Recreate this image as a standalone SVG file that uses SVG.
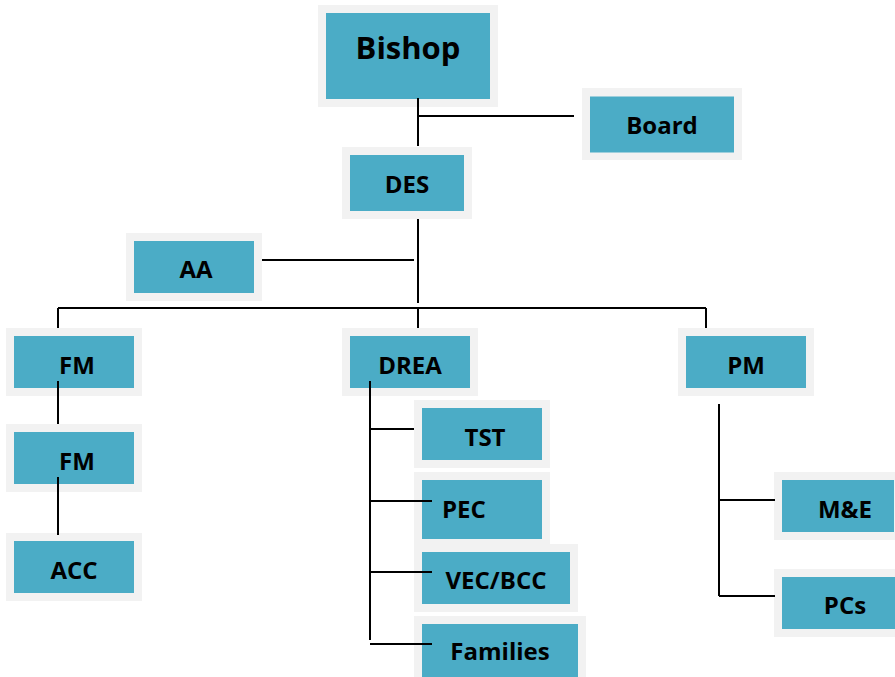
<svg xmlns="http://www.w3.org/2000/svg" width="895" height="677" viewBox="0 0 895 677">
<style>
.o{fill:#f2f2f2}
.i{fill:#4bacc6}
.t{font-family:"Open Sans","Noto Sans",sans-serif;font-weight:bold;font-size:24px;fill:#000;text-anchor:middle}
.c line{stroke:#000;stroke-width:2}
</style>
<rect width="895" height="677" fill="#fff"/>
<g id="bishop"><rect class="o" x="318" y="5" width="180" height="102"/><rect class="i" x="326" y="13" width="164" height="86"/><text class="t" x="408" y="59" style="font-size:31px">Bishop</text></g>
<g id="board"><rect class="o" x="582" y="88" width="160" height="72"/><rect class="i" x="590" y="96.5" width="144" height="56"/><text class="t" x="662" y="134">Board</text></g>
<g id="des"><rect class="o" x="342" y="147" width="130" height="72"/><rect class="i" x="350" y="155" width="114" height="56"/><text class="t" x="407" y="193">DES</text></g>
<g id="aa"><rect class="o" x="126" y="233" width="136" height="68"/><rect class="i" x="134" y="241" width="120" height="52"/><text class="t" x="196" y="278">AA</text></g>
<g id="fm1"><rect class="o" x="6" y="328" width="136" height="68"/><rect class="i" x="14" y="336" width="120" height="52"/><text class="t" x="77" y="374">FM</text></g>
<g id="drea"><rect class="o" x="342" y="328" width="136" height="68"/><rect class="i" x="350" y="336" width="120" height="52"/><text class="t" x="410" y="374">DREA</text></g>
<g id="pm"><rect class="o" x="678" y="328" width="136" height="68"/><rect class="i" x="686" y="336" width="120" height="52"/><text class="t" x="746" y="374">PM</text></g>
<g id="fm2"><rect class="o" x="6" y="424" width="136" height="68"/><rect class="i" x="14" y="432" width="120" height="52"/><text class="t" x="77" y="470">FM</text></g>
<g id="acc"><rect class="o" x="6" y="533" width="136" height="68"/><rect class="i" x="14" y="541" width="120" height="52"/><text class="t" x="74" y="579">ACC</text></g>
<g id="tst"><rect class="o" x="414" y="400" width="136" height="68"/><rect class="i" x="422" y="408" width="120" height="52"/><text class="t" x="485" y="446">TST</text></g>
<g id="pec"><rect class="o" x="414" y="472" width="136" height="72"/><rect class="i" x="422" y="480" width="120" height="59"/><text class="t" x="442" y="518" style="text-anchor:start">PEC</text></g>
<g id="vec"><rect class="o" x="414" y="544" width="164" height="68"/><rect class="i" x="422" y="552" width="148" height="52"/><text class="t" x="496" y="589">VEC/BCC</text></g>
<g id="families"><rect class="o" x="414" y="616" width="172" height="70"/><rect class="i" x="422" y="624" width="156" height="60"/><text class="t" x="500" y="660">Families</text></g>
<g id="me"><rect class="o" x="774" y="472" width="130" height="68"/><rect class="i" x="782" y="480" width="112" height="52"/><text class="t" x="845" y="518">M&amp;E</text></g>
<g id="pcs"><rect class="o" x="774" y="569" width="130" height="68"/><rect class="i" x="782" y="577" width="113" height="52"/><text class="t" x="845" y="614">PCs</text></g>
<g id="connectors" class="c">
<line x1="418" y1="98" x2="418" y2="146"/>
<line x1="418" y1="116" x2="574" y2="116"/>
<line x1="418" y1="219" x2="418" y2="303"/>
<line x1="262" y1="260" x2="414" y2="260"/>
<line x1="58" y1="308" x2="706" y2="308"/>
<line x1="418" y1="309" x2="418" y2="328"/>
<line x1="58" y1="308" x2="58" y2="328"/>
<line x1="706" y1="308" x2="706" y2="328"/>
<line x1="58" y1="381" x2="58" y2="424"/>
<line x1="58" y1="477" x2="58" y2="535"/>
<line x1="370" y1="381" x2="370" y2="640"/>
<line x1="370" y1="429" x2="414" y2="429"/>
<line x1="370" y1="501" x2="432" y2="501"/>
<line x1="370" y1="572" x2="432" y2="572"/>
<line x1="370" y1="644" x2="432" y2="644"/>
<line x1="719" y1="404" x2="719" y2="596"/>
<line x1="719" y1="500" x2="775" y2="500"/>
<line x1="719" y1="596" x2="775" y2="596"/>
</g>
</svg>
